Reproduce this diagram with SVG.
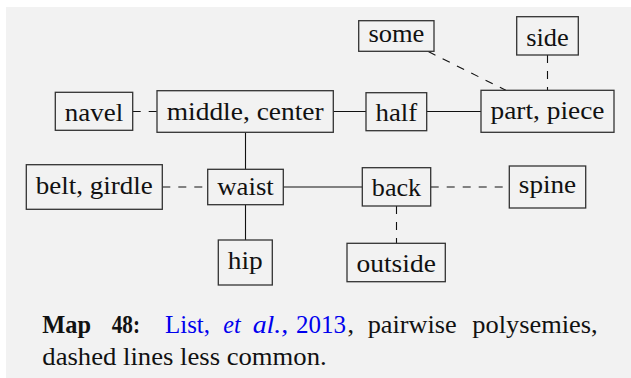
<svg xmlns="http://www.w3.org/2000/svg" width="631" height="378" viewBox="0 0 631 378">
<style>
.box{fill:#f2f2f2;stroke:#333;stroke-width:1.3}
.lbl{font-family:"Liberation Serif","DejaVu Serif","Noto Serif",serif;font-size:26px;fill:#111;text-anchor:middle}
.solid{stroke:#111;stroke-width:1.1;fill:none}
.dash{stroke:#111;stroke-width:1.1;fill:none;stroke-dasharray:8 8}
.cap{font-family:"Liberation Serif","DejaVu Serif","Noto Serif",serif;font-size:26px;fill:#111}
.link{fill:#0000ee}
</style>
<rect x="0" y="0" width="631" height="378" fill="#ffffff"/>
<rect x="6" y="7" width="625" height="371" fill="#f2f2f2"/>
<g id="connectors">
<line class="dash" x1="132.7" y1="111.5" x2="157" y2="111.5"/>
<line class="solid" x1="333.3" y1="111.5" x2="366" y2="111.5"/>
<line class="solid" x1="426.7" y1="111.5" x2="481" y2="111.5"/>
<line class="dash" x1="428.3" y1="51.6" x2="505.8" y2="90.3"/>
<line class="dash" x1="547.5" y1="55" x2="547.5" y2="90.3"/>
<line class="solid" x1="245.5" y1="132.3" x2="245.5" y2="169.3"/>
<line class="dash" x1="162.3" y1="187" x2="207.7" y2="187"/>
<line class="solid" x1="283.3" y1="187" x2="362.3" y2="187"/>
<line class="dash" x1="430.7" y1="187" x2="509.3" y2="187"/>
<line class="solid" x1="245.5" y1="204.7" x2="245.5" y2="240"/>
<line class="dash" x1="396.5" y1="206" x2="396.5" y2="243.3"/>
</g>
<g id="some"><rect class="box" x="358.7" y="20.7" width="75.3" height="30.6"/><text class="lbl" x="396.4" y="42" textLength="56" lengthAdjust="spacingAndGlyphs">some</text></g>
<g id="side"><rect class="box" x="516.7" y="16.7" width="61.6" height="38.3"/><text class="lbl" x="547.5" y="45.5" textLength="42.6" lengthAdjust="spacingAndGlyphs">side</text></g>
<g id="navel"><rect class="box" x="55.3" y="92.3" width="77.4" height="38"/><text class="lbl" x="94" y="120.8" textLength="58.4" lengthAdjust="spacingAndGlyphs">navel</text></g>
<g id="middle"><rect class="box" x="157" y="90.7" width="176.3" height="41.6"/><text class="lbl" x="245.2" y="120" textLength="157" lengthAdjust="spacingAndGlyphs">middle, center</text></g>
<g id="half"><rect class="box" x="366" y="92.7" width="60.7" height="38"/><text class="lbl" x="396.4" y="121.2" textLength="41.7" lengthAdjust="spacingAndGlyphs">half</text></g>
<g id="part"><rect class="box" x="481" y="90.3" width="133" height="42"/><text class="lbl" x="547.5" y="118.6" textLength="114" lengthAdjust="spacingAndGlyphs">part, piece</text></g>
<g id="belt"><rect class="box" x="26.3" y="164.7" width="136" height="44.6"/><text class="lbl" x="94.3" y="193.8" textLength="117" lengthAdjust="spacingAndGlyphs">belt, girdle</text></g>
<g id="waist"><rect class="box" x="207.7" y="169.3" width="75.6" height="35.4"/><text class="lbl" x="245.5" y="195.2" textLength="56.6" lengthAdjust="spacingAndGlyphs">waist</text></g>
<g id="back"><rect class="box" x="362.3" y="167.7" width="68.4" height="38.3"/><text class="lbl" x="396.5" y="196.4" textLength="49.4" lengthAdjust="spacingAndGlyphs">back</text></g>
<g id="spine"><rect class="box" x="509.3" y="166" width="76.4" height="42"/><text class="lbl" x="547.5" y="193.2" textLength="57.4" lengthAdjust="spacingAndGlyphs">spine</text></g>
<g id="hip"><rect class="box" x="218.3" y="240" width="54" height="45"/><text class="lbl" x="245.3" y="269.3" textLength="35" lengthAdjust="spacingAndGlyphs">hip</text></g>
<g id="outside"><rect class="box" x="347" y="243.3" width="98.3" height="38.4"/><text class="lbl" x="396.2" y="272.2" textLength="79.3" lengthAdjust="spacingAndGlyphs">outside</text></g>
<g id="caption">
<text class="cap" y="333.3"><tspan x="42.3" font-weight="bold" textLength="48.7" lengthAdjust="spacingAndGlyphs">Map</tspan><tspan x="111.7" font-weight="bold" textLength="28.3" lengthAdjust="spacingAndGlyphs">48:</tspan><tspan x="165" class="link" textLength="45" lengthAdjust="spacingAndGlyphs">List,</tspan><tspan x="223.3" class="link" font-style="italic" textLength="17.4" lengthAdjust="spacingAndGlyphs">et</tspan><tspan x="252.7" class="link" font-style="italic" textLength="35.6" lengthAdjust="spacingAndGlyphs">al.,</tspan><tspan x="296" class="link" font-size="25">2013</tspan><tspan x="347.5">,</tspan><tspan x="367.7" textLength="89" lengthAdjust="spacingAndGlyphs">pairwise</tspan><tspan x="472.3" textLength="125.4" lengthAdjust="spacingAndGlyphs">polysemies,</tspan></text>
<text class="cap" x="42.3" y="364.5" textLength="284.4" lengthAdjust="spacingAndGlyphs">dashed lines less common.</text>
</g>
</svg>
